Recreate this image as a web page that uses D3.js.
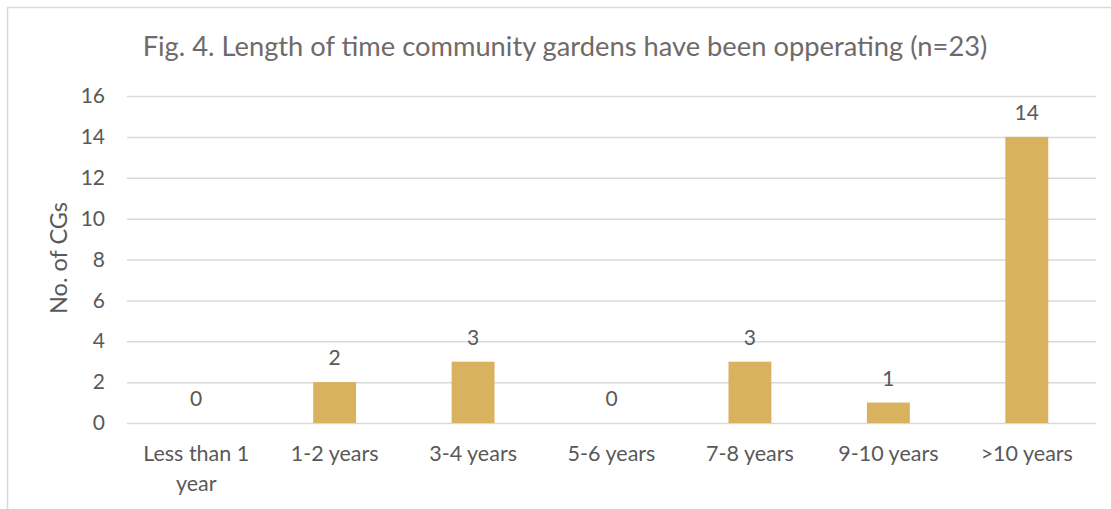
<!DOCTYPE html>
<html>
<head>
<meta charset="utf-8">
<script src="https://cdn.jsdelivr.net/npm/d3@7/dist/d3.min.js"></script>
<style>
  html, body { margin: 0; padding: 0; background: #fff; }
  svg { display: block; }
  text { font-family: Lato, "Open Sans", sans-serif; }
</style>
</head>
<body>
<svg id="chart" width="1111" height="509"></svg>
<script>
// Years each community garden has been operating, grouped into bands
const categories = ["Less than 1 year", "1-2 years", "3-4 years", "5-6 years", "7-8 years", "9-10 years", ">10 years"];
const counts = [0, 2, 3, 0, 3, 1, 14];
const yTicks = [0, 2, 4, 6, 8, 10, 12, 14, 16];
const titleText = "Fig. 4. Length of time community gardens have been opperating (n=23)";
const yTitle = "No. of CGs";

const W = 1111, H = 509;
const plot = { left: 127, right: 1096, top: 96, bottom: 423 };
const textColor = "#595959";
const gridColor = "#d9d9d9";
const barColor = "#d8b25e";

const svg = d3.select("#chart");

// chart frame
svg.append("rect")
  .attr("x", 7.5).attr("y", 7.5)
  .attr("width", W + 20).attr("height", H + 20)
  .attr("fill", "#fff").attr("stroke", gridColor).attr("stroke-width", 1.5);

const x = d3.scaleBand()
  .domain(categories)
  .range([plot.left, plot.right])
  .paddingInner(0.69).paddingOuter(0.345);

const y = d3.scaleLinear().domain([0, 16]).range([plot.bottom, plot.top]);

// horizontal gridlines with tick labels
const yAxis = d3.axisLeft(y)
  .tickValues(yTicks)
  .tickSize(-(plot.right - plot.left))
  .tickPadding(22);
const gy = svg.append("g")
  .attr("transform", `translate(${plot.left},0)`)
  .call(yAxis);
gy.select(".domain").remove();
gy.selectAll(".tick line").attr("stroke", gridColor).attr("stroke-width", 1.5);
gy.selectAll(".tick text")
  .attr("fill", textColor)
  .style("font-size", "21px");

// bars
svg.append("g").selectAll("rect")
  .data(counts)
  .join("rect")
  .attr("x", (d, i) => x(categories[i]))
  .attr("y", d => y(d))
  .attr("width", x.bandwidth())
  .attr("height", d => y(0) - y(d))
  .attr("fill", barColor);

// value labels above bars
svg.append("g").selectAll("text")
  .data(counts)
  .join("text")
  .attr("x", (d, i) => x(categories[i]) + x.bandwidth() / 2)
  .attr("y", d => y(d) - 17)
  .attr("text-anchor", "middle")
  .attr("fill", textColor)
  .style("font-size", "21px")
  .text(d => d);

// category labels, wrapped like the original axis
const xAxis = d3.axisBottom(x).tickSize(0).tickPadding(0);
const gx = svg.append("g")
  .attr("transform", `translate(0,${plot.bottom})`)
  .call(xAxis);
gx.select(".domain").remove();
gx.selectAll(".tick text").each(function(d) {
  const t = d3.select(this);
  t.text(null)
    .attr("fill", textColor)
    .style("font-size", "21.5px")
    .attr("y", 0).attr("dy", null);
  const lines = d === "Less than 1 year" ? ["Less than 1", "year"] : [d];
  lines.forEach((ln, k) => {
    t.append("tspan")
      .attr("x", 0)
      .attr("y", 38 + k * 30)
      .text(ln);
  });
});

// y-axis title
svg.append("text")
  .attr("transform", `translate(67,258) rotate(-90)`)
  .attr("text-anchor", "middle")
  .attr("fill", textColor)
  .style("font-size", "23.5px")
  .text(yTitle);

// chart title
svg.append("text")
  .attr("x", 565)
  .attr("y", 56)
  .attr("text-anchor", "middle")
  .attr("fill", "#6f6a6a")
  .style("font-size", "27.3px")
  .text(titleText);
</script>
</body>
</html>
